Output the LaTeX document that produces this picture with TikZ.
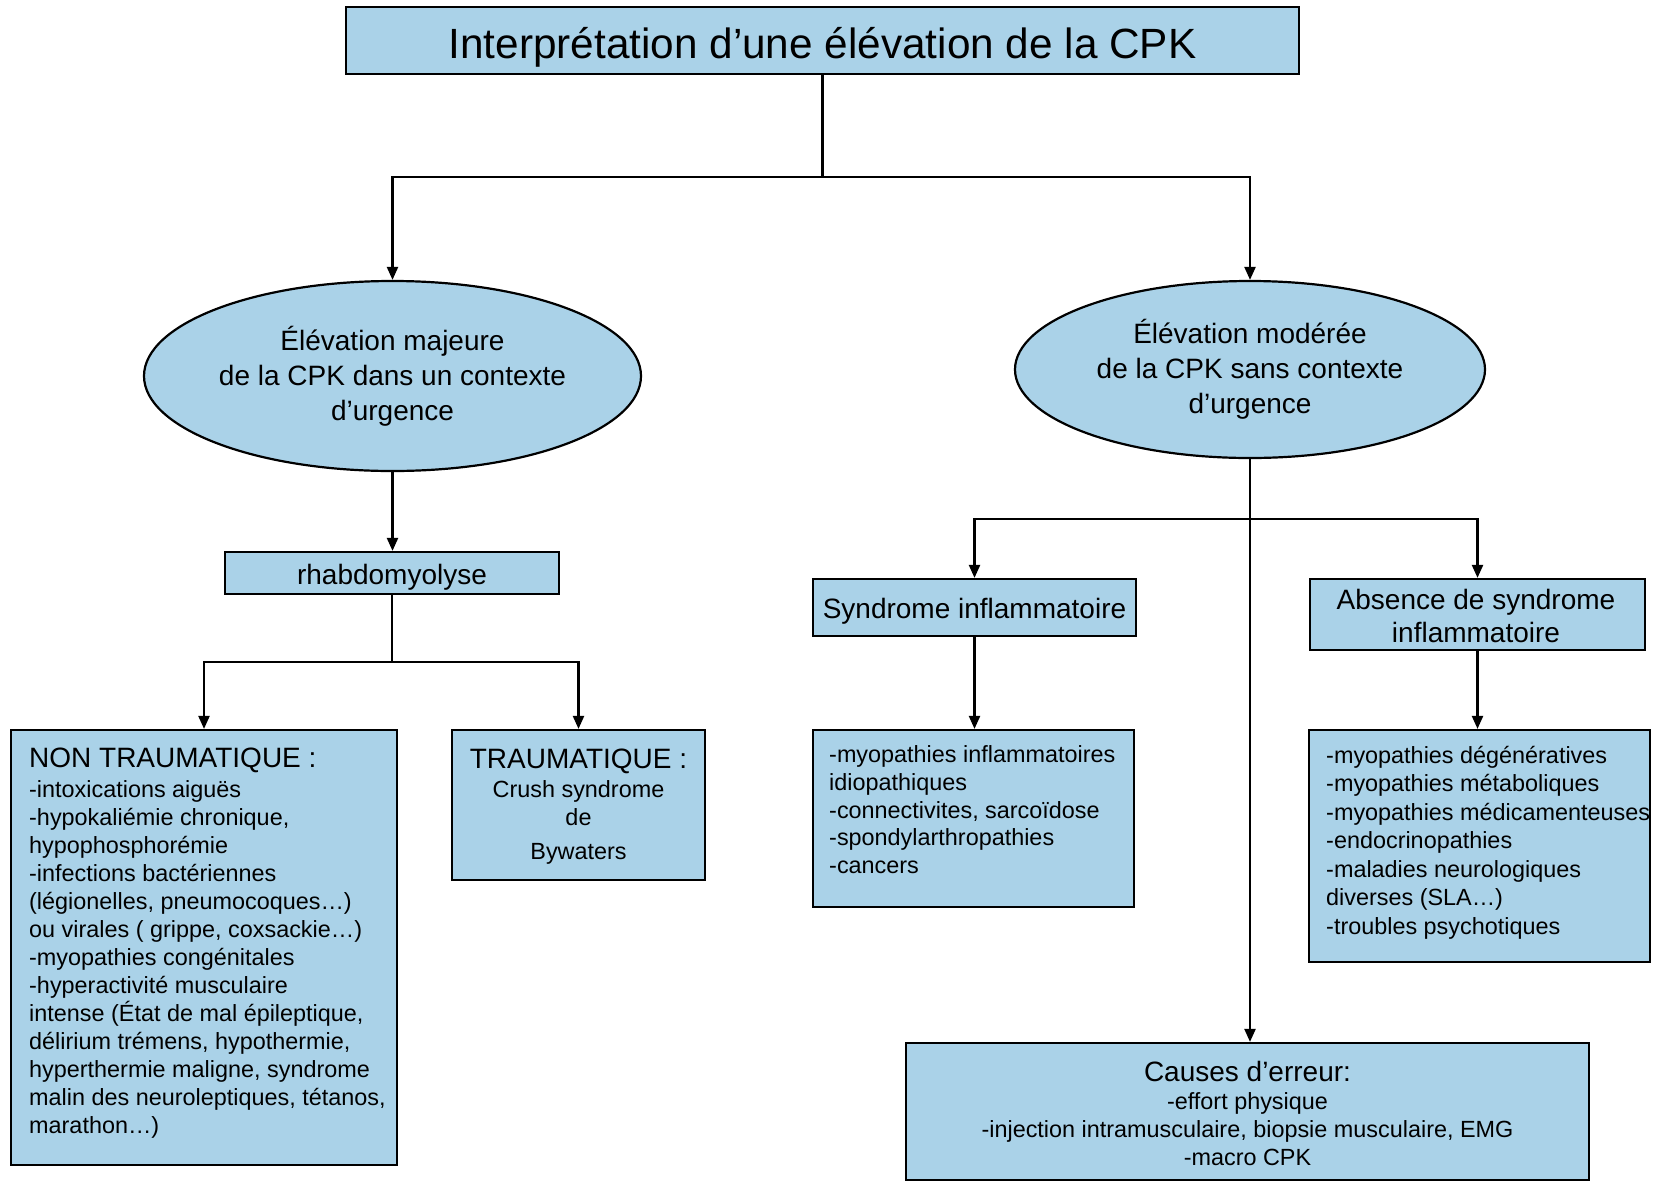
\documentclass[tikz,border=0pt]{standalone}
\usepackage{fontspec}
\setmainfont{Liberation Sans}
\usetikzlibrary{arrows.meta,shapes.geometric}
\definecolor{boxblue}{RGB}{170,210,232}
\tikzset{
  box/.style={draw=black, line width=2.2pt, fill=boxblue, rectangle, inner sep=0pt},
  oval/.style={draw=black, line width=2.2pt, fill=boxblue, ellipse, inner sep=0pt, align=center},
  conn/.style={line width=2.2pt, draw=black},
  arr/.style={conn, -{Triangle[length=13pt,width=11pt]}},
  bigf/.style={font=\fontsize{28}{35}\selectfont},
  bodyf/.style={font=\fontsize{23.4}{28}\selectfont},
  txt/.style={inner sep=0pt},
}
\newcommand{\hdr}[1]{{\fontsize{28}{28}\selectfont #1}}
\begin{document}
\begin{tikzpicture}[x=1pt,y=-1pt]
\useasboundingbox[fill=white] (0,0) rectangle (1661,1183);

% boxes
\node[box, minimum width=953pt, minimum height=67pt] (title) at (822.5,40.5) {};
\node[txt, anchor=base, font=\fontsize{42.3}{50}\selectfont] (titletxt) at (822.5,58) {Interprétation d’une élévation de la CPK};

\node[oval, bigf, minimum width=497pt, minimum height=190pt] (e1) at (392.5,376)
  {Élévation majeure\\de la CPK dans un contexte\\d’urgence};
\node[oval, bigf, minimum width=470pt, minimum height=177pt] (e2) at (1250,369.5)
  {Élévation modérée\\de la CPK sans contexte\\d’urgence};

\node[box, minimum width=334pt, minimum height=42pt] (rh) at (392,573) {};
\node[txt, bigf, anchor=base] (rhtxt) at (392,584.3) {rhabdomyolyse};

\node[box, minimum width=386pt, minimum height=435pt] (nt) at (204,947.5) {};
\node[txt, bodyf, anchor=base west, align=left] (nttxt) at (29,1133)
  {\hdr{NON TRAUMATIQUE :}\\[2pt]
   -intoxications aiguës\\
   -hypokaliémie chronique,\\
   hypophosphorémie\\
   -infections bactériennes\\
   (légionelles, pneumocoques…)\\
   ou virales ( grippe, coxsackie…)\\
   -myopathies congénitales\\
   -hyperactivité musculaire\\
   intense (État de mal épileptique,\\
   délirium trémens, hypothermie,\\
   hyperthermie maligne, syndrome\\
   malin des neuroleptiques, tétanos,\\
   marathon…)};

\node[box, minimum width=253pt, minimum height=150pt] (tr) at (578.5,805) {};
\node[txt, bodyf, anchor=base, align=center] (trtxt) at (578.5,859)
  {\hdr{TRAUMATIQUE :}\\[1pt]
   Crush syndrome\\
   de\\[6pt]
   Bywaters};

\node[box, minimum width=323pt, minimum height=57pt] (si) at (974.5,607.5) {};
\node[txt, bigf, anchor=base] (sitxt) at (974.5,618.5) {Syndrome inflammatoire};

\node[box, minimum width=335pt, minimum height=71pt] (ab) at (1477.5,614.5) {};
\node[txt, anchor=base, align=center, font=\fontsize{28}{33.5}\selectfont] (abtxt) at (1476,642.5)
  {Absence de syndrome\\inflammatoire};

\node[box, minimum width=321pt, minimum height=177pt] (l1) at (973.5,818.5) {};
\node[txt, anchor=base west, align=left, font=\fontsize{23.4}{27.7}\selectfont] (l1txt) at (829,873.5)
  {-myopathies inflammatoires\\
   idiopathiques\\
   -connectivites, sarcoïdose\\
   -spondylarthropathies\\
   -cancers};

\node[box, minimum width=341pt, minimum height=232pt] (l2) at (1479.5,846) {};
\node[txt, anchor=base west, align=left, font=\fontsize{23.4}{28.45}\selectfont] (l2txt) at (1326,934)
  {-myopathies dégénératives\\
   -myopathies métaboliques\\
   -myopathies médicamenteuses\\
   -endocrinopathies\\
   -maladies neurologiques\\
   diverses (SLA…)\\
   -troubles psychotiques};

\node[box, minimum width=683pt, minimum height=137pt] (ca) at (1247.5,1111.5) {};
\node[txt, bodyf, anchor=base, align=center] (catxt) at (1247.5,1165.5)
  {\hdr{Causes d’erreur:}\\
   -effort physique\\
   -injection intramusculaire, biopsie musculaire, EMG\\
   -macro CPK};

% connectors
\coordinate (j1) at (822.5,177);
\draw[conn] (title.south) -- (j1);
\draw[arr] (j1) -| (e1.north);
\draw[arr] (j1) -| (e2.north);

\draw[arr] (e1.south) -- (e1.south |- rh.north);
\coordinate (j2) at (392,662);
\draw[conn] (rh.south) -- (j2);
\draw[arr] (j2) -| (nt.north);
\draw[arr] (j2) -| (tr.north);

\draw[arr] (e2.south) -- (e2.south |- ca.north);
\coordinate (j3) at (1250,519);
\draw[arr] (j3) -| (si.north);
\draw[arr] (j3) -| (ab.north);
\draw[arr] (si.south) -- (si.south |- l1.north);
\draw[arr] (ab.south) -- (ab.south |- l2.north);
\end{tikzpicture}
\end{document}
